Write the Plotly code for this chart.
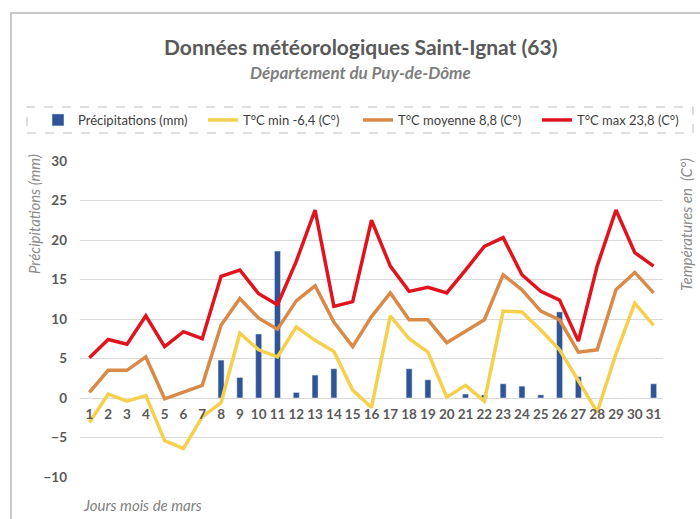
import plotly.graph_objects as go

days = [str(d) for d in range(1, 32)]
precip = [0, 0, 0, 0, 0, 0, 0, 4.8, 2.6, 8.1, 18.6, 0.7, 2.9, 3.7, 0, 0, 0, 3.7, 2.3, 0,
          0.5, 0.4, 1.8, 1.5, 0.4, 10.9, 2.7, 0, 0, 0, 1.8]
tmin = [-3.1, 0.5, -0.4, 0.3, -5.4, -6.4, -2.4, -0.6, 8.2, 6.1, 5.2, 9.0, 7.3, 5.9, 1.0, -1.2,
        10.4, 7.5, 5.8, 0.1, 1.6, -0.4, 11.0, 10.9, 8.6, 6.1, 2.2, -1.8, 5.6, 12.0, 9.2]
tmoy = [0.7, 3.5, 3.5, 5.2, -0.1, 0.8, 1.6, 9.2, 12.6, 10.1, 8.7, 12.3, 14.2, 9.6, 6.5, 10.3,
        13.3, 9.9, 9.9, 7.0, 8.5, 9.9, 15.6, 13.7, 11.0, 9.9, 5.8, 6.1, 13.7, 15.9, 13.3]
tmax = [5.1, 7.4, 6.8, 10.4, 6.5, 8.4, 7.5, 15.4, 16.2, 13.2, 11.8, 17.3, 23.8, 11.6, 12.2, 22.5,
        16.7, 13.5, 14.0, 13.3, 16.2, 19.2, 20.3, 15.6, 13.5, 12.4, 7.2, 16.7, 23.8, 18.4, 16.7]
yticks = [-10, -5, 0, 5, 10, 15, 20, 25, 30]

FONT = "Lato"
GRAY = "#595959"

L, R, T, B = 80, 37, 161, 42
W, H = 700, 519
pw, ph = W - L - R, H - T - B


def px(x):
    return (x - L) / pw


def py(y):
    return (H - B - y) / ph


fig = go.Figure()
fig.add_trace(go.Bar(x=days, y=precip, name="Précipitations (mm)", marker_color="#2F5597",
                     width=0.32, legend="legend"))
fig.add_trace(go.Scatter(x=days, y=tmin, name="T°C min -6,4 (C°)", mode="lines",
                         line=dict(color="#F5D04C", width=3.5), legend="legend2"))
fig.add_trace(go.Scatter(x=days, y=tmoy, name="T°C moyenne 8,8 (C°)", mode="lines",
                         line=dict(color="#DA8A48", width=3.5), legend="legend3"))
fig.add_trace(go.Scatter(x=days, y=tmax, name="T°C max 23,8 (C°)", mode="lines",
                         line=dict(color="#E0141E", width=3.5), legend="legend4"))

leg_common = dict(orientation="h", xanchor="left", y=py(120), yanchor="middle",
                  font=dict(size=13, color="#404040"), bgcolor="rgba(0,0,0,0)")

fig.update_layout(
    width=W, height=H,
    margin=dict(l=L, r=R, t=T, b=B),
    plot_bgcolor="white", paper_bgcolor="white",
    font=dict(family=FONT, color=GRAY),
    showlegend=True,
    legend=dict(x=px(38), **leg_common),
    legend2=dict(x=px(203), **leg_common),
    legend3=dict(x=px(358), **leg_common),
    legend4=dict(x=px(537), **leg_common),
    xaxis=dict(type="category", anchor="free", position=0.25, showgrid=False,
               showline=False, ticks="", ticklabelstandoff=6,
               tickfont=dict(size=13.5, color=GRAY, weight="bold"),
               range=[-0.5, 30.5]),
    yaxis=dict(range=[-10, 30], tickvals=yticks, gridcolor="#d9d9d9", gridwidth=1,
               zeroline=True, zerolinecolor="#d9d9d9", zerolinewidth=1, showline=False,
               tickfont=dict(size=13.5, color=GRAY, weight="bold"), ticks="",
               ticklabelstandoff=12),
    bargap=0.68,
)

fig.add_annotation(text="<b>Données météorologiques Saint-Ignat (63)</b>", xref="paper", yref="paper",
                   x=px(360), y=py(46), xanchor="center", yanchor="middle", showarrow=False,
                   font=dict(size=21, color=GRAY))
fig.add_annotation(text="<b><i>Département du Puy-de-Dôme</i></b>", xref="paper", yref="paper",
                   x=px(360), y=py(72), xanchor="center", yanchor="middle", showarrow=False,
                   font=dict(size=17, color="#7f7f7f"))
fig.add_annotation(text="<i>Précipitations (mm)</i>", xref="paper", yref="paper",
                   x=px(34), y=py(214), xanchor="center", yanchor="middle", showarrow=False,
                   textangle=-90, font=dict(size=15, color="#8c8c8c"))
fig.add_annotation(text="<i>Températures en  (C°)</i>", xref="paper", yref="paper",
                   x=px(686), y=py(225), xanchor="center", yanchor="middle", showarrow=False,
                   textangle=-90, font=dict(size=15, color="#8c8c8c"))
fig.add_annotation(text="<i>Jours mois de mars</i>", xref="paper", yref="paper",
                   x=px(81), y=py(505), xanchor="left", yanchor="middle", showarrow=False,
                   font=dict(size=15, color="#7f7f7f"))

# outer chart border
fig.add_shape(type="rect", xref="paper", yref="paper", x0=px(11), x1=px(720), y0=py(540), y1=py(13),
              line=dict(color="#c8c8c8", width=2), layer="below")
# dashed legend frame
fig.add_shape(type="rect", xref="paper", yref="paper", x0=px(27), x1=px(693), y0=py(133), y1=py(107),
              line=dict(color="#bfbfbf", width=1, dash="dash"), layer="below")

fig.write_html("out.html", config={"displayModeBar": False},
               post_script="document.body.style.margin='0px';")
